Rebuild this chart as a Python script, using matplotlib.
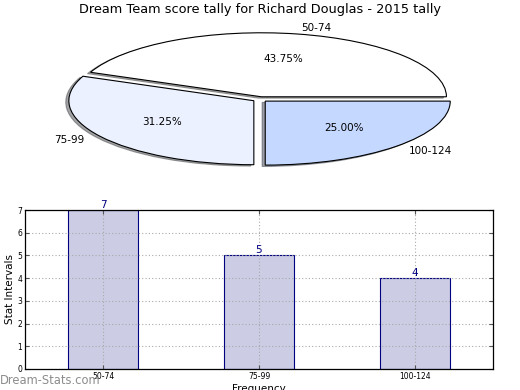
import matplotlib
matplotlib.use("Agg")
import matplotlib.pyplot as plt

title = "Dream Team score tally for Richard Douglas - 2015 tally"
categories = ["50-74", "75-99", "100-124"]
counts = [7, 5, 4]
pie_colors = ["#FFFFFF", "#EBF1FF", "#C5D8FF"]
explode = [0.04, 0.04, 0.04]

fig = plt.figure(figsize=(5.2, 3.9), dpi=100)

# Pie (squashed ellipse)
ax1 = fig.add_axes([0, 0.5, 1, 0.5])
ax1.pie(counts, labels=categories, colors=pie_colors, explode=explode,
        autopct="%1.2f%%", shadow={"ox": -0.012, "oy": -0.015}, startangle=0,
        wedgeprops=dict(edgecolor="black", linewidth=0.8),
        textprops=dict(fontsize=7.5))
ax1.set_aspect("auto")
ax1.set_xlim(-260 / 185, 260 / 185)
ax1.set_ylim(-95.7 / 64, 99.3 / 64)
ax1.axis("off")

fig.text(0.5, 1 - 10 / 390, title, ha="center", va="center", fontsize=9.3)

# Bar chart
ax2 = fig.add_axes([25 / 520, 1 - 369 / 390, 468 / 520, 159 / 390])
x = list(range(len(categories)))
bars = ax2.bar(x, counts, width=0.45, color="#CCCCE5", edgecolor="#000080",
               linewidth=0.8, zorder=1)
for xi, c in zip(x, counts):
    ax2.text(xi, c, str(c), ha="center", va="bottom", color="#000080",
             fontsize=7.5, zorder=4)
ax2.set_xlim(-0.5, 2.5)
ax2.set_ylim(0, 7)
ax2.set_xticks(x)
ax2.set_xticklabels(categories)
ax2.set_yticks(range(0, 8))
ax2.tick_params(direction="in", top=True, right=True, length=3, labelsize=5.5,
                pad=2, color="#555555")
ax2.set_axisbelow(False)
ax2.grid(True, linestyle=(0, (1, 2)), color="#AAAAAA", linewidth=0.8, zorder=3)
ax2.set_ylabel("Stat Intervals", fontsize=7.5, labelpad=2)
ax2.set_xlabel("Frequency", fontsize=7.5, labelpad=2)
for s in ax2.spines.values():
    s.set_linewidth(0.9)
    s.set_zorder(5)

fig.text(0.0, 1 - 381 / 390, "Dream-Stats.com", ha="left", va="center",
         fontsize=8.3, color="#8C8C8C")

fig.savefig("out.png", dpi=100)
